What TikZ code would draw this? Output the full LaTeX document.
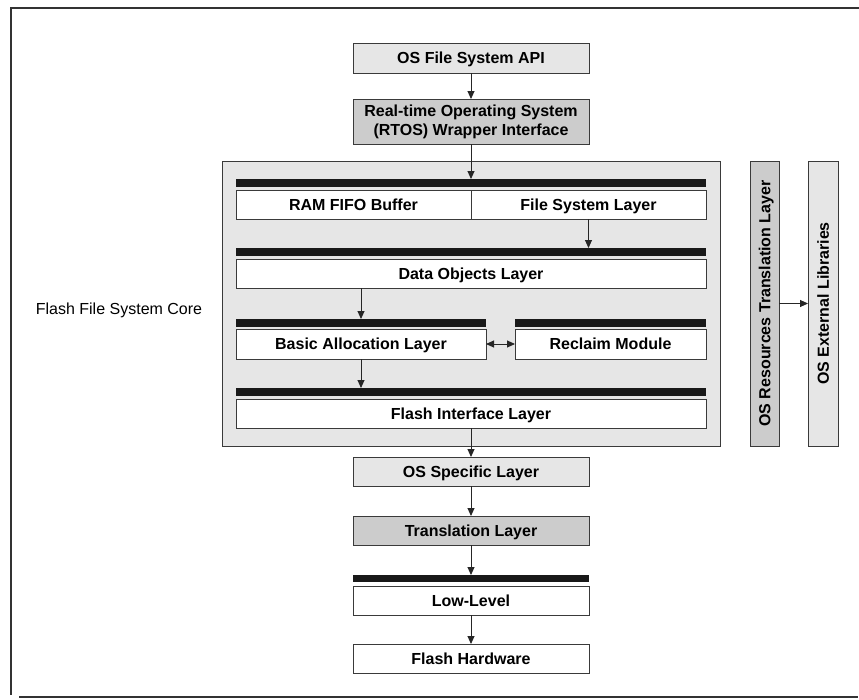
\documentclass[tikz,border=0pt]{standalone}
\usepackage{fontspec}
\setmainfont{Liberation Sans}
\usetikzlibrary{arrows.meta}
\definecolor{lightfill}{HTML}{E6E6E6}
\definecolor{darkfill}{HTML}{CCCCCC}
\definecolor{edge}{HTML}{3A3A3A}
\tikzset{
  layer/.style={draw=edge, line width=0.9pt, inner sep=0pt, outer sep=0pt,
    font=\fontsize{16}{19}\selectfont\bfseries, align=center,
    text height=11.5pt, text depth=0pt},
  lightbox/.style={layer, fill=lightfill},
  darkbox/.style={layer, fill=darkfill},
  whitebox/.style={layer, fill=white},
  twoline/.style={text height=, text depth=},
  sidetext/.style={rotate=90, font=\fontsize{16}{19}\selectfont\bfseries,
    inner sep=0pt, text height=11.5pt, text depth=0pt},
  busbar/.style={fill=black!90, draw=none, inner sep=0pt, outer sep=0pt},
  arr/.style={draw=black!85, line width=0.9pt, -{Triangle[length=8pt,width=7pt]}},
  biarr/.style={draw=black!85, line width=0.9pt,
    {Triangle[length=8pt,width=7pt]}-{Triangle[length=8pt,width=7pt]}},
  frameline/.style={draw=black!80, line width=2pt}
}
\begin{document}
\begin{tikzpicture}[x=1pt,y=-1pt]
\useasboundingbox (0,0) rectangle (859,699);

% page frame
\draw[frameline] (10,8) -- (859,8);
\draw[frameline] (11,8) -- (11,695);
\draw[frameline] (19,697) -- (858,697);

% upper OS layers
\node[lightbox, minimum width=236, minimum height=30] (api) at (471,58) {OS File System API};
\node[darkbox, twoline, minimum width=236, minimum height=45] (rtos) at (471,121.5)
  {Real-time Operating System\\(RTOS) Wrapper Interface};

% flash file system core
\node[lightbox, minimum width=498, minimum height=285] (core) at (471,303.5) {};
\node[font=\fontsize{16}{19}\selectfont, inner sep=0pt] (corelabel) at (119,310) {Flash File System Core};

\node[busbar, minimum width=470, minimum height=8] (bar1) at (471,183) {};
\node[whitebox, minimum width=235, minimum height=29] (ram) at (353.5,204.5) {RAM FIFO Buffer};
\node[whitebox, minimum width=235, minimum height=29] (fsl) at (588.5,204.5) {File System Layer};

\node[busbar, minimum width=470, minimum height=8] (bar2) at (471,252) {};
\node[whitebox, minimum width=470, minimum height=29] (dol) at (471,273.5) {Data Objects Layer};

\node[busbar, minimum width=250, minimum height=8] (bar3) at (361,323) {};
\node[busbar, minimum width=191, minimum height=8] (bar4) at (610.5,323) {};
\node[whitebox, minimum width=250, minimum height=30] (bal) at (361,344) {Basic Allocation Layer};
\node[whitebox, minimum width=191, minimum height=30] (rcm) at (610.5,344) {Reclaim Module};

\node[busbar, minimum width=470, minimum height=8] (bar5) at (471,392) {};
\node[whitebox, minimum width=470, minimum height=29] (fil) at (471,413.5) {Flash Interface Layer};

% side columns
\node[darkbox, minimum width=29, minimum height=285] (osres) at (764.5,303.5) {};
\node[sidetext] (osrestext) at (osres.center) {OS Resources Translation Layer};
\node[lightbox, minimum width=30, minimum height=285] (extlib) at (823,303.5) {};
\node[sidetext] (extlibtext) at (extlib.center) {OS External Libraries};

% lower layers
\node[lightbox, minimum width=236, minimum height=29] (ossp) at (471,471.5) {OS Specific Layer};
\node[darkbox, minimum width=236, minimum height=29] (trans) at (471,530.5) {Translation Layer};
\node[busbar, minimum width=236, minimum height=7] (bar6) at (471,578.5) {};
\node[whitebox, minimum width=236, minimum height=29] (low) at (471,600.5) {Low-Level};
\node[whitebox, minimum width=236, minimum height=29] (hw) at (471,658.5) {Flash Hardware};

% connectors
\draw[arr] (api.south) -- (rtos.north);
\draw[arr] (rtos.south) -- (bar1.north);
\draw[arr] (fsl.south) -- (fsl.south |- bar2.north);
\draw[arr] (dol.south -| bar3.north) -- (bar3.north);
\draw[arr] (bal.south) -- (bal.south |- bar5.north);
\draw[biarr] (bal.east) -- (rcm.west);
\draw[arr] (fil.south) -- (ossp.north);
\draw[arr] (ossp.south) -- (trans.north);
\draw[arr] (trans.south) -- (bar6.north);
\draw[arr] (low.south) -- (hw.north);
\draw[arr] (osres.east) -- (extlib.west);
\end{tikzpicture}
\end{document}
